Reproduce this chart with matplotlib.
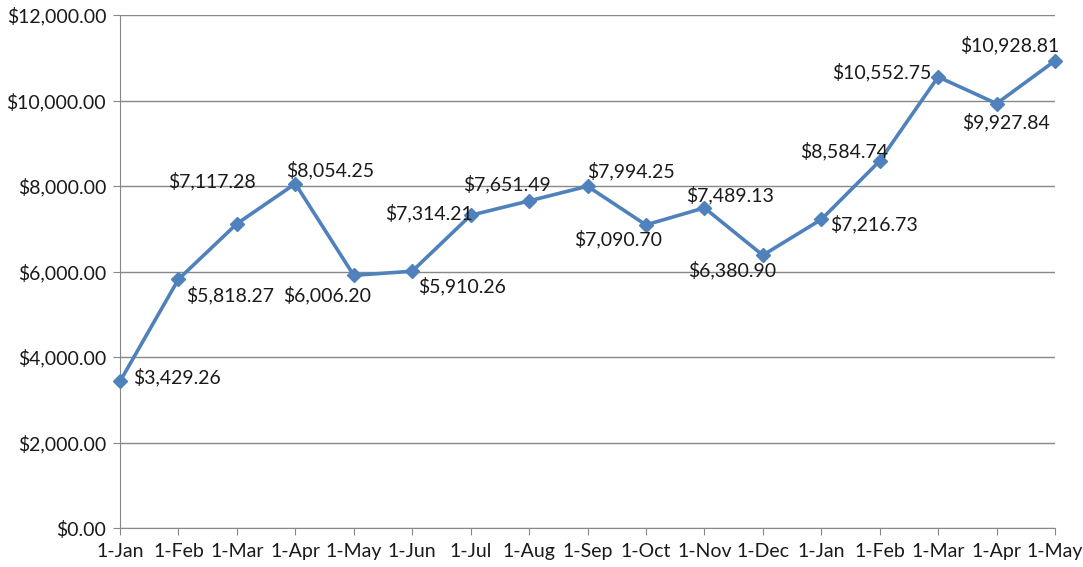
import matplotlib
matplotlib.use("Agg")
import matplotlib.pyplot as plt
from matplotlib.ticker import FuncFormatter, MultipleLocator

dates = ["1-Jan", "1-Feb", "1-Mar", "1-Apr", "1-May", "1-Jun", "1-Jul", "1-Aug",
         "1-Sep", "1-Oct", "1-Nov", "1-Dec", "1-Jan", "1-Feb", "1-Mar", "1-Apr", "1-May"]
values = [3429.26, 5818.27, 7117.28, 8054.25, 5910.26, 6006.20, 7314.21, 7651.49,
          7994.25, 7090.70, 7489.13, 6380.90, 7216.73, 8584.74, 10552.75, 9927.84, 10928.81]
labels = ["$3,429.26", "$5,818.27", "$7,117.28", "$8,054.25", "$6,006.20", "$5,910.26",
          "$7,314.21", "$7,651.49", "$7,994.25", "$7,090.70", "$7,489.13", "$6,380.90",
          "$7,216.73", "$8,584.74", "$10,552.75", "$9,927.84", "$10,928.81"]
offsets = [(57, 4), (52, -16), (-25, 43), (35, 14), (-27, -20), (50, -15), (-42, 2),
           (-22, 17), (43, 15), (-28, -14), (26, 13), (-31, -15), (53, -5), (-36, 10),
           (-56, 5), (9, -18), (-45, 16)]

plt.rcParams['font.family'] = ['Lato', 'DejaVu Sans']
fig = plt.figure(figsize=(10.83, 5.67), dpi=100)
ax = fig.add_axes([120/1083, 39/567, (1055-120)/1083, (528-15)/567])

x = list(range(len(values)))
ax.plot(x, values, color='#4F81BD', lw=2.6, marker='D', ms=7, zorder=3, clip_on=False)
for xi, v, lab, off in zip(x, values, labels, offsets):
    ax.annotate(lab, (xi, v), xytext=off, textcoords='offset pixels',
                ha='center', va='center', fontsize=14, color='#1a1a1a')

ax.set_xlim(0, len(values) - 1)
ax.set_ylim(0, 12000)
ax.yaxis.set_major_locator(MultipleLocator(2000))
ax.yaxis.set_major_formatter(FuncFormatter(lambda v, p: f"${v:,.2f}"))
ax.set_xticks(x)
ax.set_xticklabels(dates)
ax.grid(axis='y', color='#888888', lw=1)
ax.set_axisbelow(True)
for s in ['top', 'right']:
    ax.spines[s].set_visible(False)
for s in ['left', 'bottom']:
    ax.spines[s].set_color('#888888')
ax.tick_params(axis='y', length=5, color='#888888', labelsize=14, labelcolor='#1a1a1a', pad=5)
ax.tick_params(axis='x', length=5, color='#888888', labelsize=14, labelcolor='#1a1a1a', pad=6)
fig.savefig('out.png', dpi=100)
